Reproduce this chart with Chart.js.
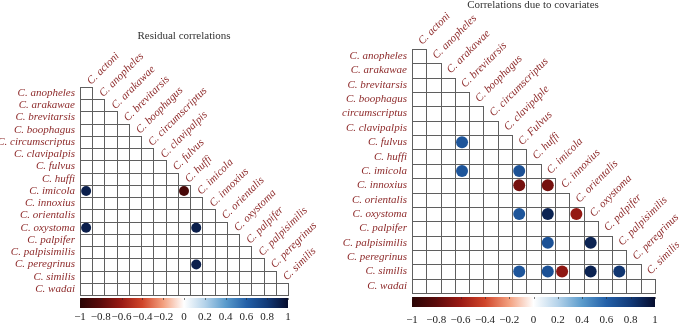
<!DOCTYPE html>
<html>
<head>
<meta charset="utf-8">
<script src="https://cdn.jsdelivr.net/npm/chart.js@4"></script>
<style>
  html, body { margin: 0; padding: 0; background: #fff; }
  #wrap { position: relative; width: 679px; height: 324px; overflow: hidden; }
  canvas { position: absolute; top: 0; }
</style>
</head>
<body>
<div id="wrap">
  <canvas id="residual" width="340" height="324" style="left:0"></canvas>
  <canvas id="covariates" width="339" height="324" style="left:340px"></canvas>
</div>
<script>
// species shown on the columns (top, diagonal) and rows (left)
const colsLeft = ['C. actoni', 'C. anopheles', 'C. arakawae', 'C. brevitarsis', 'C. boophagus',
  'C. circumscriptus', 'C. clavipalpis', 'C. fulvus', 'C. huffi', 'C. imicola', 'C. innoxius',
  'C. orientalis', 'C. oxystoma', 'C. palpifer', 'C. palpisimilis', 'C. peregrinus', 'C. similis'];
const colsRight = ['C. actoni', 'C. anopheles', 'C. arakawae', 'C. brevitarsis', 'C. boophagus',
  'C. circumscriptus', 'C. clavipdple', 'C. Fulvus', 'C. huffi', 'C. imicola', 'C. innoxius',
  'C. orientalis', 'C. oxystoma', 'C. palpifer', 'C. palpisimilis', 'C. peregrinus', 'C. similis'];
const rows = ['C. anopheles', 'C. arakawae', 'C. brevitarsis', 'C. boophagus', 'C. circumscriptus',
  'C. clavipalpis', 'C. fulvus', 'C. huffi', 'C. imicola', 'C. innoxius', 'C. orientalis',
  'C. oxystoma', 'C. palpifer', 'C. palpisimilis', 'C. peregrinus', 'C. similis', 'C. wadai'];

// significant correlations (col, row, value)
const residualCells = [
  ['C. actoni', 'C. imicola', 0.92],
  ['C. huffi', 'C. imicola', -0.88],
  ['C. actoni', 'C. oxystoma', 0.92],
  ['C. imicola', 'C. oxystoma', 0.92],
  ['C. imicola', 'C. peregrinus', 0.92],
];
const covariateCells = [
  ['C. brevitarsis', 'C. fulvus', 0.66],
  ['C. brevitarsis', 'C. imicola', 0.66],
  ['C. Fulvus', 'C. imicola', 0.68],
  ['C. Fulvus', 'C. innoxius', -0.72],
  ['C. imicola', 'C. innoxius', -0.72],
  ['C. Fulvus', 'C. oxystoma', 0.66],
  ['C. imicola', 'C. oxystoma', 0.9],
  ['C. orientalis', 'C. oxystoma', -0.62],
  ['C. imicola', 'C. palpisimilis', 0.68],
  ['C. oxystoma', 'C. palpisimilis', 0.9],
  ['C. Fulvus', 'C. similis', 0.66],
  ['C. imicola', 'C. similis', 0.68],
  ['C. innoxius', 'C. similis', -0.64],
  ['C. oxystoma', 'C. similis', 0.9],
  ['C. palpisimilis', 'C. similis', 0.82],
];

const barTicks = [-1, -0.8, -0.6, -0.4, -0.2, 0, 0.2, 0.4, 0.6, 0.8, 1];

const palette = [[-1, '#2a0505'], [-0.8, '#5c0b0b'], [-0.6, '#9a1a14'], [-0.4, '#d0452a'],
  [-0.2, '#f3a07f'], [0, '#ffffff'], [0.2, '#b5d3ea'], [0.4, '#5a9bcc'], [0.6, '#2360a8'],
  [0.8, '#123a78'], [1, '#060d2e']];

function hexRgb(h) {
  return [1, 3, 5].map(i => parseInt(h.substr(i, 2), 16));
}
function colorFor(v) {
  for (let i = 0; i < palette.length - 1; i++) {
    const [a, ca] = palette[i], [b, cb] = palette[i + 1];
    if (v >= a && v <= b) {
      const t = (v - a) / (b - a), p = hexRgb(ca), q = hexRgb(cb);
      const m = p.map((c, k) => Math.round(c + (q[k] - c) * t));
      return `rgb(${m[0]},${m[1]},${m[2]})`;
    }
  }
  return palette[palette.length - 1][1];
}

const labelColor = '#8e2b2b';
const labelFont = 'italic 11px "Liberation Serif", "DejaVu Serif", serif';

// grid cells, diagonal column labels, colour bar and title
const matrixPlugin = {
  id: 'matrix',
  beforeDatasetsDraw(chart, args, opts) {
    const { ctx, scales: { x, y } } = chart;
    const cw = x.getPixelForValue(1) - x.getPixelForValue(0);
    const ch = y.getPixelForValue(1) - y.getPixelForValue(0);
    ctx.save();
    ctx.strokeStyle = '#5f5f5f';
    ctx.lineWidth = 1;
    rows.forEach((r, ri) => {
      for (let ci = 0; ci <= ri; ci++) {
        const cx = x.getPixelForValue(ci), cy = y.getPixelForValue(ri);
        const l = Math.round(cx - cw / 2) + 0.5, t = Math.round(cy - ch / 2) + 0.5;
        const w = Math.round(cx + cw / 2) + 0.5 - l, h = Math.round(cy + ch / 2) + 0.5 - t;
        ctx.strokeRect(l, t, w, h);
      }
    });
    ctx.fillStyle = labelColor;
    ctx.font = labelFont;
    ctx.textAlign = 'left';
    ctx.textBaseline = 'alphabetic';
    x.getLabels().forEach((lab, ci) => {
      const cx = x.getPixelForValue(ci);
      const top = y.getPixelForValue(ci) - ch / 2;
      ctx.save();
      ctx.translate(cx + opts.labDx, top + opts.labDy);
      ctx.rotate(-Math.PI / 4);
      ctx.fillText(lab, 0, 0);
      ctx.restore();
    });
    ctx.restore();
  },
  afterDraw(chart, args, opts) {
    const { ctx, chartArea: a } = chart;
    ctx.save();
    const top = a.bottom + opts.barGap, h = opts.barH;
    const g = ctx.createLinearGradient(a.left, 0, a.right, 0);
    palette.forEach(([v, c]) => g.addColorStop((v + 1) / 2, c));
    ctx.fillStyle = g;
    ctx.fillRect(a.left, top, a.right - a.left, h);
    ctx.font = '11px "Liberation Serif", "DejaVu Serif", serif';
    ctx.textAlign = 'center';
    ctx.textBaseline = 'middle';
    barTicks.forEach(v => {
      const px = a.left + (v + 1) / 2 * (a.right - a.left);
      ctx.strokeStyle = 'rgba(40,40,40,0.6)';
      ctx.beginPath();
      ctx.moveTo(Math.round(px) + 0.5, top);
      ctx.lineTo(Math.round(px) + 0.5, top + 2);
      ctx.stroke();
      ctx.fillStyle = '#222';
      ctx.fillText(v === 0 ? '0' : String(v).replace('-', '\u2212'), px, top + h + opts.tickGap);
    });
    ctx.fillStyle = '#333';
    ctx.font = '11px "Liberation Serif", "DejaVu Serif", serif';
    ctx.fillText(opts.title, opts.titleX, opts.titleY);
    ctx.restore();
  }
};

function makeChart(id, cols, cells, radius, pad, yWidth, extra) {
  return new Chart(document.getElementById(id), {
    type: 'scatter',
    data: {
      datasets: [{
        data: cells.map(([c, r, v]) => ({ x: c, y: r, v })),
        pointRadius: radius,
        pointBorderWidth: 0,
        pointBackgroundColor: ctx => colorFor(ctx.raw.v),
      }],
    },
    options: {
      responsive: false,
      animation: false,
      events: [],
      layout: { padding: pad },
      plugins: { legend: { display: false }, tooltip: { enabled: false }, matrix: extra },
      scales: {
        x: { type: 'category', labels: cols, offset: true, display: false },
        y: {
          type: 'category', labels: rows, offset: true,
          grid: { display: false, drawTicks: false }, border: { display: false },
          ticks: { color: labelColor, font: { family: '"Liberation Serif", "DejaVu Serif", serif', style: 'italic', size: 11 }, padding: 5, autoSkip: false },
          afterFit: s => { s.width = yWidth; },
        },
      },
    },
    plugins: [matrixPlugin],
  });
}

makeChart('residual', colsLeft, residualCells, 5,
  { left: 0, top: 87, right: 52, bottom: 29 }, 80,
  { title: 'Residual correlations', titleX: 184, titleY: 36, barGap: 3, barH: 10, tickGap: 9, labDx: 5, labDy: -2 });
makeChart('covariates', colsRight, covariateCells, 6,
  { left: 0, top: 49, right: 24, bottom: 31 }, 72,
  { title: 'Correlations due to covariates', titleX: 193, titleY: 5, barGap: 4, barH: 10, tickGap: 13, labDx: 3, labDy: -4 });
</script>
</body>
</html>
